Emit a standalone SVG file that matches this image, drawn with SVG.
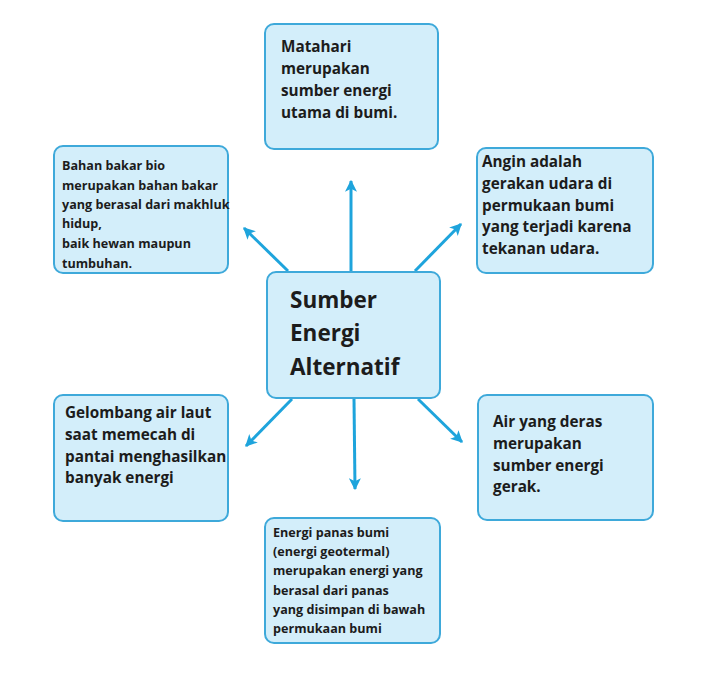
<svg xmlns="http://www.w3.org/2000/svg" width="720" height="676" viewBox="0 0 720 676">
<style>
.box{fill:#d3eefa;stroke:#3ea9da;stroke-width:2}
.t{font-family:"Open Sans","Noto Sans","Liberation Sans",sans-serif;font-weight:bold;fill:#1c1c1c}
.m{font-size:15.3px}
.s{font-size:12.6px}
.c{font-size:22.5px}
.conn line{stroke:#1ea4dc;stroke-width:3;marker-end:url(#ah)}
</style>
<defs>
<marker id="ah" viewBox="0 0 10 10" refX="9" refY="5" markerWidth="4" markerHeight="4" orient="auto" markerUnits="strokeWidth">
<path d="M0,0 L10,5 L0,10 L2.5,5 Z" fill="#1ea4dc"/>
</marker>
</defs>
<rect width="720" height="676" fill="#ffffff"/>
<g id="connectors" class="conn">
<line x1="351" y1="272" x2="351" y2="181"/>
<line x1="288" y1="271" x2="244" y2="228"/>
<line x1="415" y1="271" x2="461" y2="224"/>
<line x1="292" y1="399" x2="246" y2="446"/>
<line x1="354" y1="399" x2="355" y2="489"/>
<line x1="418" y1="399" x2="462" y2="442"/>
</g>
<g id="center">
<rect class="box" x="267" y="272" width="173" height="126" rx="9"/>
<text class="t c"><tspan x="290" y="308">Sumber</tspan><tspan x="290" y="341">Energi</tspan><tspan x="290" y="375">Alternatif</tspan></text>
</g>
<g id="matahari">
<rect class="box" x="265" y="24" width="173" height="125" rx="9"/>
<text class="t m"><tspan x="281" y="52">Matahari</tspan><tspan x="281" y="74">merupakan</tspan><tspan x="281" y="96">sumber energi</tspan><tspan x="281" y="118">utama di bumi.</tspan></text>
</g>
<g id="bio">
<rect class="box" x="54" y="146" width="174" height="127" rx="9"/>
<text class="t s"><tspan x="62" y="170">Bahan bakar bio</tspan><tspan x="62" y="190">merupakan bahan bakar</tspan><tspan x="62" y="209">yang berasal dari makhluk</tspan><tspan x="62" y="228">hidup,</tspan><tspan x="62" y="248">baik hewan maupun</tspan><tspan x="62" y="268">tumbuhan.</tspan></text>
</g>
<g id="angin">
<rect class="box" x="477" y="148" width="176" height="125" rx="9"/>
<text class="t m"><tspan x="482" y="167">Angin adalah</tspan><tspan x="482" y="189">gerakan udara di</tspan><tspan x="482" y="211">permukaan bumi</tspan><tspan x="482" y="232">yang terjadi karena</tspan><tspan x="482" y="254">tekanan udara.</tspan></text>
</g>
<g id="gelombang">
<rect class="box" x="54" y="395" width="174" height="126" rx="9"/>
<text class="t m"><tspan x="65" y="418">Gelombang air laut</tspan><tspan x="65" y="440">saat memecah di</tspan><tspan x="65" y="462">pantai menghasilkan</tspan><tspan x="65" y="483">banyak energi</tspan></text>
</g>
<g id="air">
<rect class="box" x="478" y="395" width="175" height="125" rx="9"/>
<text class="t m"><tspan x="493" y="427">Air yang deras</tspan><tspan x="493" y="449">merupakan</tspan><tspan x="493" y="471">sumber energi</tspan><tspan x="493" y="492">gerak.</tspan></text>
</g>
<g id="geotermal">
<rect class="box" x="265" y="518" width="175" height="125" rx="9"/>
<text class="t s"><tspan x="273" y="537">Energi panas bumi</tspan><tspan x="273" y="556">(energi geotermal)</tspan><tspan x="273" y="575">merupakan energi yang</tspan><tspan x="273" y="595">berasal dari panas</tspan><tspan x="273" y="614">yang disimpan di bawah</tspan><tspan x="273" y="633">permukaan bumi</tspan></text>
</g>
</svg>
